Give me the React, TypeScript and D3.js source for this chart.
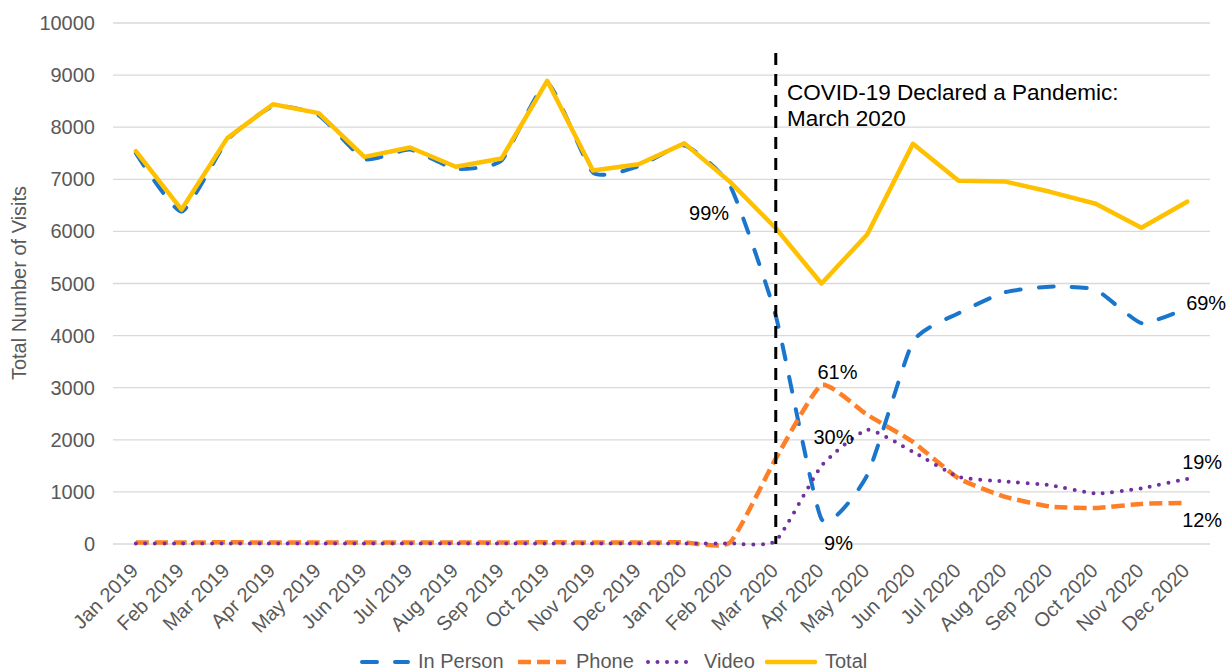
import React from "react";
import * as d3 from "d3";

const months = [
  "Jan 2019", "Feb 2019", "Mar 2019", "Apr 2019", "May 2019", "Jun 2019",
  "Jul 2019", "Aug 2019", "Sep 2019", "Oct 2019", "Nov 2019", "Dec 2019",
  "Jan 2020", "Feb 2020", "Mar 2020", "Apr 2020", "May 2020", "Jun 2020",
  "Jul 2020", "Aug 2020", "Sep 2020", "Oct 2020", "Nov 2020", "Dec 2020",
];

const inPerson = [
  7500, 6380, 7750, 8400, 8230, 7390, 7570, 7200, 7360, 8850, 7130, 7250,
  7650, 6880, 4380, 480, 1320, 3880, 4430, 4830, 4940, 4880, 4240, 4530,
];
const phone = [
  30, 30, 32, 30, 28, 30, 30, 28, 30, 32, 30, 30,
  32, 30, 1640, 3050, 2480, 1960, 1260, 910, 720, 690, 770, 790,
];
const video = [
  10, 10, 10, 10, 10, 10, 10, 10, 10, 10, 10, 10,
  10, 10, 60, 1500, 2190, 1770, 1290, 1200, 1130, 970, 1070, 1250,
];
const total = [
  7540, 6420, 7790, 8440, 8270, 7430, 7610, 7240, 7400, 8890, 7170, 7290,
  7690, 6950, 6060, 5000, 5940, 7680, 6970, 6960, 6760, 6530, 6070, 6570,
];

const yTicks = [0, 1000, 2000, 3000, 4000, 5000, 6000, 7000, 8000, 9000, 10000];

const annotations = [
  { text: "99%", month: "Feb 2020", value: inPerson[13], dx: -21, dy: 27 },
  { text: "61%", month: "Apr 2020", value: phone[15], dx: 16, dy: -13 },
  { text: "30%", month: "Apr 2020", value: video[15], dx: 12, dy: -29 },
  { text: "9%", month: "Apr 2020", value: inPerson[15], dx: 17, dy: 24 },
  { text: "69%", month: "Dec 2020", value: inPerson[23], dx: 19, dy: -5 },
  { text: "19%", month: "Dec 2020", value: video[23], dx: 15, dy: -17 },
  { text: "12%", month: "Dec 2020", value: phone[23], dx: 15, dy: 17 },
];

const FONT = "'Liberation Sans', Arial, sans-serif";
const GREY = "#595959";

const seriesDefs = [
  { name: "In Person", data: inPerson, color: "#1A75CC", width: 4, dash: "15,18", cap: "round", smooth: true },
  { name: "Phone", data: phone, color: "#FF7F27", width: 4.5, dash: "13,6", cap: "butt", smooth: true },
  { name: "Video", data: video, color: "#7030A0", width: 4, dash: "0,9.5", cap: "round", smooth: true },
  { name: "Total", data: total, color: "#FFC000", width: 4.5, dash: null, cap: "round", smooth: false },
];

export default function App() {
  const W = 1228;
  const H = 671;
  const left = 113;
  const right = 1210;
  const top = 23;
  const bottom = 544;

  const x = d3.scalePoint<string>().domain(months).range([left, right]).padding(0.5);
  const y = d3.scaleLinear().domain([0, 10000]).range([bottom, top]);

  const marchX = x("Mar 2020") as number;

  const legendItems = [
    { idx: 0, sx: 360, tx: 418 },
    { idx: 1, sx: 518, tx: 576 },
    { idx: 2, sx: 646, tx: 704 },
    { idx: 3, sx: 767, tx: 825 },
  ];

  return (
    <svg
      width={W}
      height={H}
      style={{ position: "absolute", left: 0, top: 0, background: "#fff" }}
      fontFamily={FONT}
    >
      {yTicks.map((t) => (
        <line key={t} x1={left} x2={right} y1={y(t)} y2={y(t)} stroke="#D9D9D9" strokeWidth={1.3} />
      ))}
      {yTicks.map((t) => (
        <text key={"l" + t} x={95} y={y(t)} dy="0.35em" textAnchor="end" fontSize={20} fill={GREY}>
          {t}
        </text>
      ))}
      <text
        transform={`translate(26,283) rotate(-90)`}
        textAnchor="middle"
        fontSize={20}
        fill={GREY}
      >
        Total Number of Visits
      </text>
      {months.map((m) => (
        <text
          key={m}
          transform={`translate(${(x(m) as number) + 3.5},572) rotate(-45)`}
          textAnchor="end"
          fontSize={20}
          fill={GREY}
        >
          {m}
        </text>
      ))}
      {seriesDefs.map((s) => {
        const line = d3
          .line<number>()
          .x((_, i) => x(months[i]) as number)
          .y((d) => y(d))
          .curve(s.smooth ? d3.curveCardinal.tension(0.5) : d3.curveLinear);
        return (
          <path
            key={s.name}
            d={line(s.data) || ""}
            fill="none"
            stroke={s.color}
            strokeWidth={s.width}
            strokeDasharray={s.dash || undefined}
            strokeLinecap={s.cap as any}
            strokeLinejoin="round"
          />
        );
      })}
      <line
        x1={marchX}
        x2={marchX}
        y1={53}
        y2={bottom}
        stroke="#000"
        strokeWidth={3}
        strokeDasharray="12,9"
      />
      <text x={787} y={100} fontSize={22.5} fill="#000">
        COVID-19 Declared a Pandemic:
      </text>
      <text x={787} y={126} fontSize={22.5} fill="#000">
        March 2020
      </text>
      {annotations.map((a) => (
        <text
          key={a.text}
          x={(x(a.month) as number) + a.dx}
          y={y(a.value) + a.dy}
          dy="0.35em"
          textAnchor="middle"
          fontSize={20}
          fill="#000"
        >
          {a.text}
        </text>
      ))}
      {legendItems.map((li) => {
        const s = seriesDefs[li.idx];
        return (
          <g key={s.name}>
            <line
              x1={li.sx + (s.cap === "round" && s.dash ? 2 : 0)}
              x2={li.sx + 48}
              y1={662}
              y2={662}
              stroke={s.color}
              strokeWidth={s.width}
              strokeDasharray={s.dash || undefined}
              strokeLinecap={s.cap as any}
            />
            <text x={li.tx} y={668} fontSize={20} fill={GREY}>
              {s.name}
            </text>
          </g>
        );
      })}
    </svg>
  );
}
